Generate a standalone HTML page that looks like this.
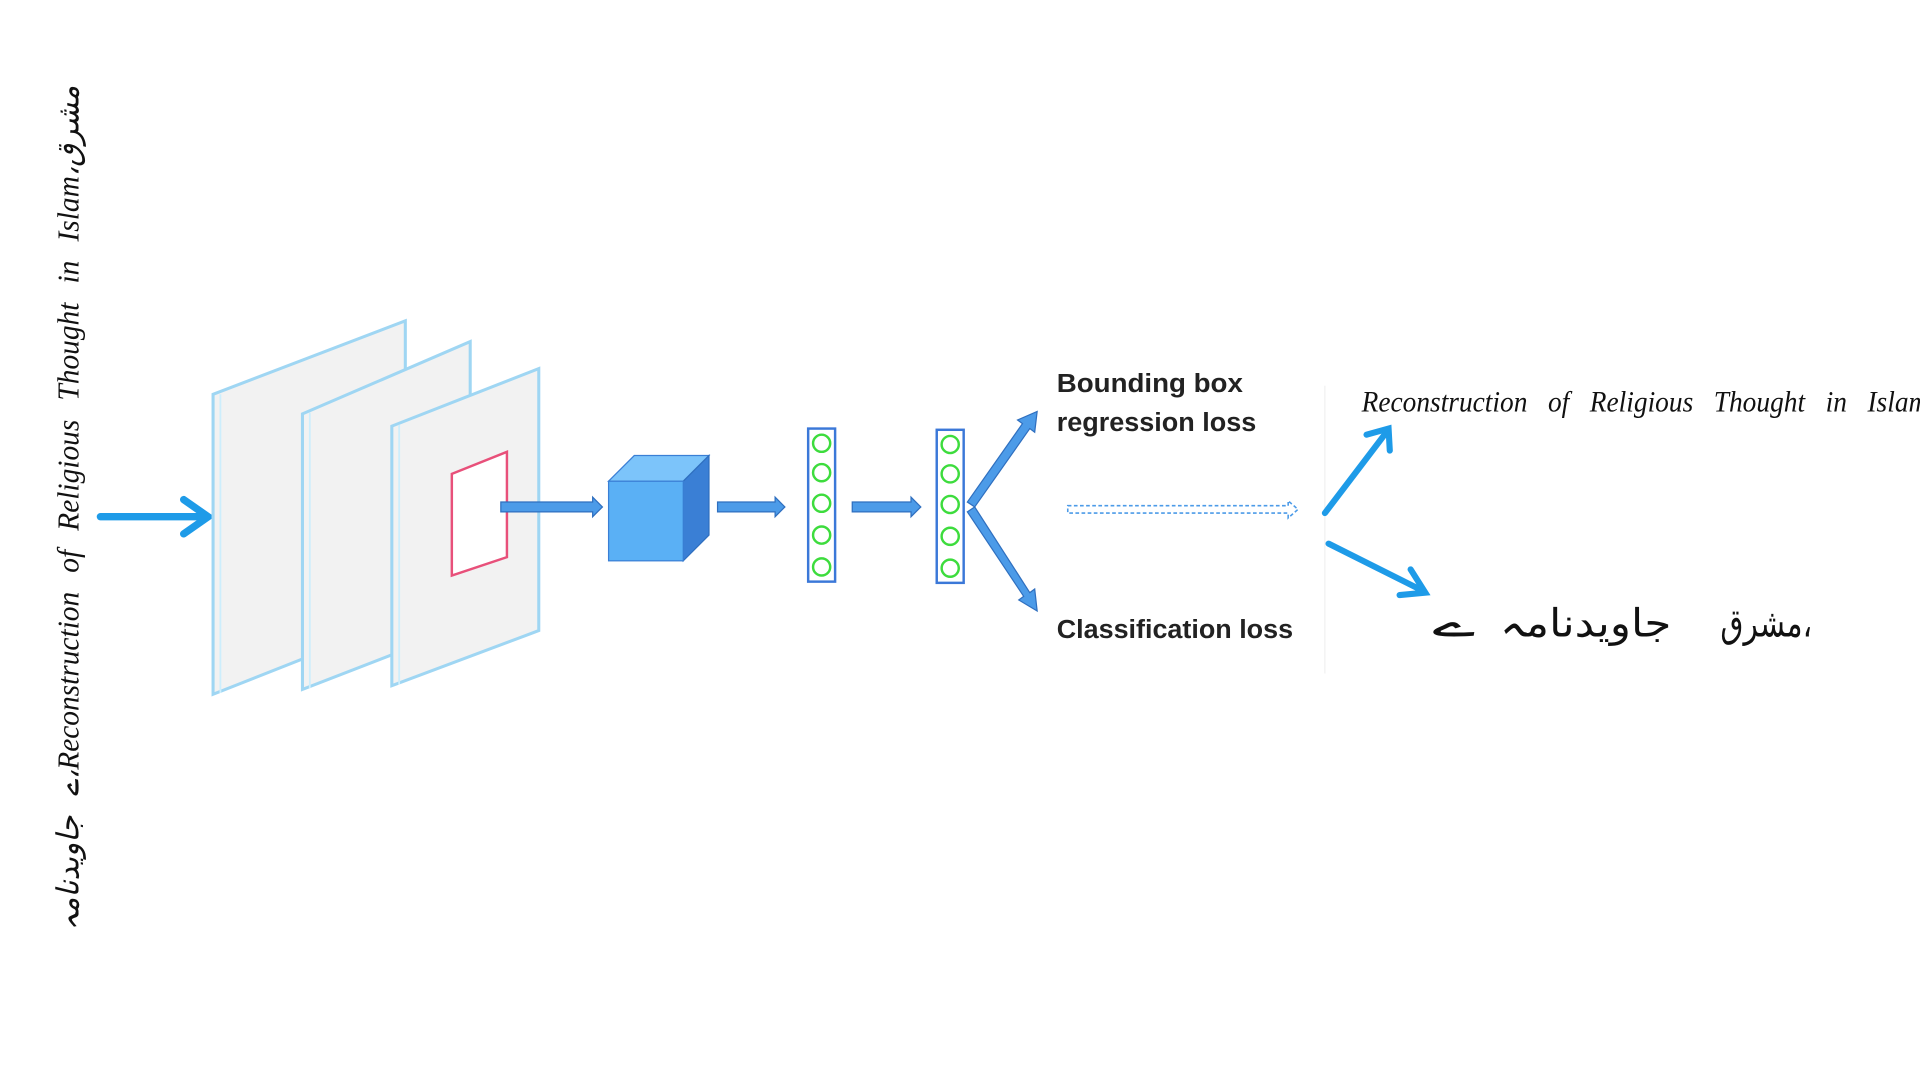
<!DOCTYPE html>
<html><head><meta charset="utf-8"><style>
html,body{margin:0;padding:0;background:#fff;}
svg{display:block;}
</style></head><body>
<svg width="1920" height="1080" viewBox="0 0 1568 882" xmlns="http://www.w3.org/2000/svg">
<rect width="1568" height="882" fill="#fff"/>
<!-- vertical left text -->
<text transform="translate(64,760) rotate(-90)" font-family="'Liberation Serif','Noto Sans CJK SC',serif" font-style="italic" font-size="25" fill="#111" word-spacing="10" textLength="690" lengthAdjust="spacingAndGlyphs">ے جاویدنامہ،Reconstruction of Religious Thought in Islam،مشرق</text>
<!-- input arrow -->
<g stroke="#1E9BE8" stroke-width="6" fill="none" stroke-linecap="round">
<line x1="82" y1="422" x2="168" y2="422"/>
<polyline points="150,408 170,422 150,436"/>
</g>
<!-- panels -->
<g fill="#f2f2f2" stroke="#9fd6f3" stroke-width="2.5">
<polygon points="174,322 331,262 331,505 174,567"/>
<polygon points="247,338 384,279 384,510 247,563"/>
<polygon points="320,348 440,301 440,515 320,560"/>
</g>
<g stroke="#cdeefc" stroke-width="1.5" fill="none">
<polyline points="180,322 180,566"/><polyline points="253,337 253,562"/><polyline points="326,347 326,559"/>
</g>
<polygon points="369,387 414,369 414,455 369,470" fill="#fff" stroke="#e8507a" stroke-width="2"/>
<!-- block arrows -->
<g fill="#4C9BE8" stroke="#2f6fbf" stroke-width="1">
<polygon points="409,410 484,410 484,406 492,414 484,422 484,418 409,418"/>
<polygon points="586,410 633,410 633,406 641,414 633,422 633,418 586,418"/>
<polygon points="696,410 744,410 744,406 752,414 744,422 744,418 696,418"/>
</g>
<!-- cube -->
<polygon points="497,393 518,372 579,372 558,393" fill="#7cc4fa" stroke="#3a7fd5" stroke-width="1"/>
<polygon points="558,393 579,372 579,437 558,458" fill="#3a7fd5" stroke="#2f6fbf" stroke-width="1"/>
<rect x="497" y="393" width="61" height="65" fill="#5AB0F5" stroke="#3a7fd5" stroke-width="1"/>
<!-- columns -->
<g fill="#fff" stroke="#3b78d8" stroke-width="2">
<rect x="660" y="350" width="22" height="125"/>
<rect x="765" y="351" width="22" height="125"/>
</g>
<g fill="none" stroke="#3ddc3d" stroke-width="2">
<circle cx="671" cy="362" r="7"/><circle cx="671" cy="386" r="7"/><circle cx="671" cy="411" r="7"/><circle cx="671" cy="437" r="7"/><circle cx="671" cy="463" r="7"/>
<circle cx="776" cy="363" r="7"/><circle cx="776" cy="387" r="7"/><circle cx="776" cy="412" r="7"/><circle cx="776" cy="438" r="7"/><circle cx="776" cy="464" r="7"/>
</g>
<!-- branch arrows -->
<g fill="#4C9BE8" stroke="#2f6fbf" stroke-width="1">
<polygon points="790,410 835,346 831,343 847,336 845,353 841,350 796,414"/>
<polygon points="790,418 796,414 841,484 845,481 847,499 832,490 836,487"/>
</g>
<!-- labels -->
<g font-family="'Liberation Sans',sans-serif" font-weight="bold" font-size="21" fill="#222">
<text x="863" y="320" textLength="152" lengthAdjust="spacingAndGlyphs">Bounding box</text>
<text x="863" y="352" textLength="163" lengthAdjust="spacingAndGlyphs">regression loss</text>
<text x="863" y="521" textLength="193" lengthAdjust="spacingAndGlyphs">Classification loss</text>
</g>
<!-- dashed arrow -->
<g fill="none" stroke="#4C9BE8" stroke-width="1.3" stroke-dasharray="3,2">
<polygon points="872,413 1052,413 1052,409 1060,416 1052,423 1052,419 872,419"/>
</g>
<line x1="1082" y1="315" x2="1082" y2="550" stroke="#f0f0f0" stroke-width="1"/>
<!-- output arrows -->
<g stroke="#1E9BE8" stroke-width="5" fill="none" stroke-linecap="round">
<line x1="1082" y1="419" x2="1133" y2="352"/>
<polyline points="1116,355 1134,350 1135,368"/>
<line x1="1085" y1="444" x2="1163" y2="483"/>
<polyline points="1152,465 1164,484 1143,486"/>
</g>
<text x="1112" y="336" font-family="'Liberation Serif',serif" font-style="italic" font-size="24" fill="#111" word-spacing="12" textLength="470" lengthAdjust="spacingAndGlyphs">Reconstruction of Religious Thought in Islam،</text>
<text x="1405" y="520" font-family="'Liberation Serif','Noto Sans CJK SC',serif" font-size="32" fill="#111" textLength="75" lengthAdjust="spacingAndGlyphs">مشرق،</text>
<text x="1225" y="520" font-family="'Liberation Serif','Noto Sans CJK SC',serif" font-size="32" fill="#111" textLength="140" lengthAdjust="spacingAndGlyphs">جاویدنامہ</text>
<text x="1170" y="520" font-family="'Liberation Serif','Noto Sans CJK SC',serif" font-size="32" fill="#111" textLength="35" lengthAdjust="spacingAndGlyphs">ے</text>
</svg>
</body></html>
